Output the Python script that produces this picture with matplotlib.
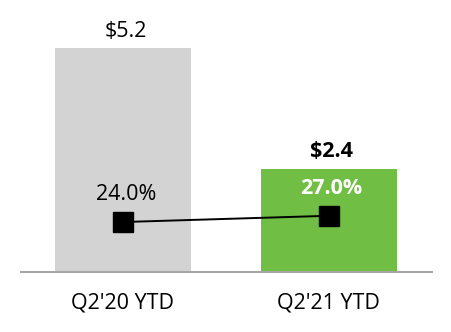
import matplotlib
matplotlib.use("Agg")
import matplotlib.pyplot as plt

categories = ["Q2'20 YTD", "Q2'21 YTD"]
revenue = [5.2, 2.4]            # $ values, bars
margin_pct = [24.0, 27.0]       # % values, line
bar_colors = ["#d3d3d3", "#70bf44"]

plt.rcParams["font.family"] = ["Open Sans", "DejaVu Sans"]
FS = 15.5

fig = plt.figure(figsize=(4.52, 3.32), dpi=100)
ax = fig.add_axes([0.0465, 0.1807, 0.909, 0.759])
x = list(range(len(categories)))

ax.bar(x, revenue, width=0.66, color=bar_colors, zorder=2)
ax.set_xlim(-0.495, 1.5)
ax.set_ylim(0, 5.85)

for xi, v, bold, dy in zip(x, revenue, [False, True], [8.0, 8.6]):
    ax.annotate(f"${v:.1f}", (xi, v), xytext=(2, dy), textcoords="offset points",
                ha="center", va="baseline", fontsize=FS,
                fontweight="bold" if bold else "normal", color="black")

ax2 = ax.twinx()
ax2.set_ylim(0, 121)
ax2.plot(x, margin_pct, color="black", lw=1.4, marker="s", markersize=14, zorder=3)

label_colors = ["black", "white"]
for xi, p, c, bold in zip(x, margin_pct, label_colors, [False, True]):
    ax2.annotate(f"{p:.1f}%", (xi, p), xytext=(2, 15.8), textcoords="offset points",
                 ha="center", va="baseline", fontsize=FS, color=c,
                 fontweight="bold" if bold else "normal")

for a in (ax, ax2):
    for s in ["top", "right", "left"]:
        a.spines[s].set_visible(False)
    a.set_yticks([])
ax2.spines["bottom"].set_visible(False)
ax.spines["bottom"].set_color("#a6a6a6")
ax.spines["bottom"].set_linewidth(1.5)

ax.set_xticks(x)
ax.set_xticklabels(categories, fontsize=FS)
ax.tick_params(axis="x", length=0, pad=15)

fig.savefig("out.png", dpi=100)
